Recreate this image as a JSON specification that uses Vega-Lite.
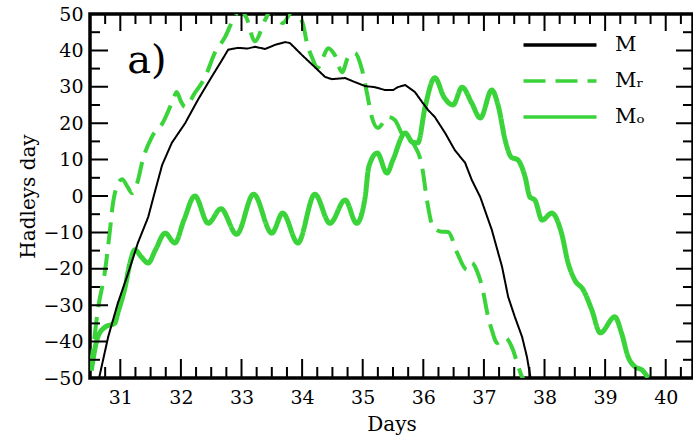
{
  "$schema": "https://vega.github.io/schema/vega-lite/v6.json",
  "width": 603,
  "height": 364,
  "autosize": "none",
  "padding": {"left": 90, "top": 14, "right": 0, "bottom": 60},
  "config": {
    "view": {"stroke": "black", "strokeWidth": 3.5},
    "axis": {"domain": false, "grid": false, "ticks": false, "labelFont": "DejaVu Serif", "labelFontSize": 19, "labelColor": "black", "titleFont": "DejaVu Serif", "titleFontSize": 20, "titleFontWeight": "normal", "titleColor": "black"},
    "legend": {"orient": "none", "legendX": 459, "legendY": 20, "symbolType": "M-4,0H4", "symbolSize": 333, "symbolStrokeWidth": 3.5, "labelFont": "DejaVu Serif", "labelFontSize": 21, "labelColor": "black", "labelOffset": 44, "rowPadding": 15}
  },
  "datasets": {
    "curves": [
      {"series": "M", "day": 30.65, "value": -50},
      {"series": "M", "day": 30.8, "value": -38.7},
      {"series": "M", "day": 30.96, "value": -29.4},
      {"series": "M", "day": 31.13, "value": -21.2},
      {"series": "M", "day": 31.29, "value": -12.9},
      {"series": "M", "day": 31.46, "value": -5.8},
      {"series": "M", "day": 31.56, "value": 0.5},
      {"series": "M", "day": 31.69, "value": 8.5},
      {"series": "M", "day": 31.85, "value": 14.6},
      {"series": "M", "day": 32.07, "value": 20},
      {"series": "M", "day": 32.28, "value": 26.4},
      {"series": "M", "day": 32.51, "value": 32.8},
      {"series": "M", "day": 32.68, "value": 37.4},
      {"series": "M", "day": 32.78, "value": 40.2},
      {"series": "M", "day": 32.94, "value": 40.7},
      {"series": "M", "day": 33.1, "value": 40.5},
      {"series": "M", "day": 33.22, "value": 41},
      {"series": "M", "day": 33.39, "value": 40.4},
      {"series": "M", "day": 33.55, "value": 41.5},
      {"series": "M", "day": 33.72, "value": 42.3},
      {"series": "M", "day": 33.8, "value": 42},
      {"series": "M", "day": 34.0, "value": 38.7},
      {"series": "M", "day": 34.21, "value": 35.4},
      {"series": "M", "day": 34.38, "value": 32.7},
      {"series": "M", "day": 34.49, "value": 32.1},
      {"series": "M", "day": 34.71, "value": 32.4},
      {"series": "M", "day": 34.87, "value": 31.3},
      {"series": "M", "day": 35.04, "value": 30.2},
      {"series": "M", "day": 35.2, "value": 29.9},
      {"series": "M", "day": 35.37, "value": 29.1},
      {"series": "M", "day": 35.5, "value": 29.1},
      {"series": "M", "day": 35.58, "value": 29.9},
      {"series": "M", "day": 35.7, "value": 30.5},
      {"series": "M", "day": 35.86, "value": 28.6},
      {"series": "M", "day": 35.98, "value": 25.8},
      {"series": "M", "day": 36.08, "value": 23.6},
      {"series": "M", "day": 36.19, "value": 21.7},
      {"series": "M", "day": 36.36, "value": 17.3},
      {"series": "M", "day": 36.52, "value": 12.6},
      {"series": "M", "day": 36.69, "value": 9.1},
      {"series": "M", "day": 36.8, "value": 4.4},
      {"series": "M", "day": 36.94, "value": -0.3},
      {"series": "M", "day": 37.13, "value": -9.3},
      {"series": "M", "day": 37.3, "value": -19.5},
      {"series": "M", "day": 37.4, "value": -27.7},
      {"series": "M", "day": 37.51, "value": -33.2},
      {"series": "M", "day": 37.63, "value": -38.7},
      {"series": "M", "day": 37.71, "value": -44.2},
      {"series": "M", "day": 37.77, "value": -50},
      {"series": "MR", "day": 30.5, "value": -48},
      {"series": "MR", "day": 30.55, "value": -42},
      {"series": "MR", "day": 30.63, "value": -31.3},
      {"series": "MR", "day": 30.75, "value": -20.3},
      {"series": "MR", "day": 30.83, "value": -9.3},
      {"series": "MR", "day": 30.88, "value": -1.9},
      {"series": "MR", "day": 30.93, "value": 2},
      {"series": "MR", "day": 31.03, "value": 4.6},
      {"series": "MR", "day": 31.12, "value": 2.5},
      {"series": "MR", "day": 31.19, "value": 0.8},
      {"series": "MR", "day": 31.28, "value": 3.6},
      {"series": "MR", "day": 31.37, "value": 9.9},
      {"series": "MR", "day": 31.52, "value": 16.2},
      {"series": "MR", "day": 31.7, "value": 20.1},
      {"series": "MR", "day": 31.87, "value": 26.4},
      {"series": "MR", "day": 31.93, "value": 28.6},
      {"series": "MR", "day": 32.0, "value": 26},
      {"series": "MR", "day": 32.07, "value": 24.5},
      {"series": "MR", "day": 32.23, "value": 28.3},
      {"series": "MR", "day": 32.4, "value": 32.7},
      {"series": "MR", "day": 32.56, "value": 39.3},
      {"series": "MR", "day": 32.73, "value": 43.7},
      {"series": "MR", "day": 32.86, "value": 48.4},
      {"series": "MR", "day": 32.97, "value": 51},
      {"series": "MR", "day": 33.08, "value": 49},
      {"series": "MR", "day": 33.22, "value": 42.5},
      {"series": "MR", "day": 33.39, "value": 48.4},
      {"series": "MR", "day": 33.5, "value": 51.5},
      {"series": "MR", "day": 33.6, "value": 49},
      {"series": "MR", "day": 33.68, "value": 47.5},
      {"series": "MR", "day": 33.85, "value": 51},
      {"series": "MR", "day": 34.01, "value": 47.5},
      {"series": "MR", "day": 34.08, "value": 42},
      {"series": "MR", "day": 34.16, "value": 38.2},
      {"series": "MR", "day": 34.26, "value": 35.2},
      {"series": "MR", "day": 34.33, "value": 37.4},
      {"series": "MR", "day": 34.43, "value": 40.6},
      {"series": "MR", "day": 34.54, "value": 38.7},
      {"series": "MR", "day": 34.66, "value": 34},
      {"series": "MR", "day": 34.76, "value": 38.2},
      {"series": "MR", "day": 34.87, "value": 39.3},
      {"series": "MR", "day": 34.99, "value": 34.6},
      {"series": "MR", "day": 35.07, "value": 28.3},
      {"series": "MR", "day": 35.15, "value": 21.7},
      {"series": "MR", "day": 35.25, "value": 18.7},
      {"series": "MR", "day": 35.42, "value": 21.7},
      {"series": "MR", "day": 35.53, "value": 20.9},
      {"series": "MR", "day": 35.65, "value": 17},
      {"series": "MR", "day": 35.85, "value": 14},
      {"series": "MR", "day": 35.98, "value": 8},
      {"series": "MR", "day": 36.06, "value": -1.1},
      {"series": "MR", "day": 36.16, "value": -8.5},
      {"series": "MR", "day": 36.3, "value": -9.8},
      {"series": "MR", "day": 36.41, "value": -9.9},
      {"series": "MR", "day": 36.56, "value": -15.7},
      {"series": "MR", "day": 36.72, "value": -20.3},
      {"series": "MR", "day": 36.8, "value": -18.4},
      {"series": "MR", "day": 36.9, "value": -21.2},
      {"series": "MR", "day": 36.97, "value": -25},
      {"series": "MR", "day": 37.07, "value": -33.2},
      {"series": "MR", "day": 37.13, "value": -36.8},
      {"series": "MR", "day": 37.22, "value": -40.4},
      {"series": "MR", "day": 37.35, "value": -39},
      {"series": "MR", "day": 37.48, "value": -42.3},
      {"series": "MR", "day": 37.55, "value": -45.9},
      {"series": "MR", "day": 37.63, "value": -49.7},
      {"series": "MR", "day": 37.7, "value": -51},
      {"series": "MO", "day": 30.52, "value": -48},
      {"series": "MO", "day": 30.63, "value": -38.7},
      {"series": "MO", "day": 30.75, "value": -36},
      {"series": "MO", "day": 30.91, "value": -34.9},
      {"series": "MO", "day": 30.96, "value": -32.1},
      {"series": "MO", "day": 31.08, "value": -25},
      {"series": "MO", "day": 31.16, "value": -18.4},
      {"series": "MO", "day": 31.24, "value": -14.8},
      {"series": "MO", "day": 31.35, "value": -16.8},
      {"series": "MO", "day": 31.46, "value": -18.4},
      {"series": "MO", "day": 31.58, "value": -14.8},
      {"series": "MO", "day": 31.74, "value": -10.2},
      {"series": "MO", "day": 31.9, "value": -12.9},
      {"series": "MO", "day": 32.05, "value": -6.6},
      {"series": "MO", "day": 32.23, "value": 0},
      {"series": "MO", "day": 32.45, "value": -7.5},
      {"series": "MO", "day": 32.66, "value": -3.5},
      {"series": "MO", "day": 32.92, "value": -10.5},
      {"series": "MO", "day": 33.2, "value": 0.5},
      {"series": "MO", "day": 33.5, "value": -10.2},
      {"series": "MO", "day": 33.68, "value": -4.7},
      {"series": "MO", "day": 33.93, "value": -12.9},
      {"series": "MO", "day": 34.21, "value": 0.5},
      {"series": "MO", "day": 34.46, "value": -7.5},
      {"series": "MO", "day": 34.71, "value": -1.1},
      {"series": "MO", "day": 34.9, "value": -7.5},
      {"series": "MO", "day": 35.04, "value": -0.3},
      {"series": "MO", "day": 35.1, "value": 8},
      {"series": "MO", "day": 35.24, "value": 11.8},
      {"series": "MO", "day": 35.4, "value": 6.3},
      {"series": "MO", "day": 35.5, "value": 10},
      {"series": "MO", "day": 35.7, "value": 17.3},
      {"series": "MO", "day": 35.82, "value": 14.8},
      {"series": "MO", "day": 35.91, "value": 14.6},
      {"series": "MO", "day": 36.03, "value": 24.5},
      {"series": "MO", "day": 36.19, "value": 32.5},
      {"series": "MO", "day": 36.34, "value": 27.2},
      {"series": "MO", "day": 36.49, "value": 25},
      {"series": "MO", "day": 36.64, "value": 29.9},
      {"series": "MO", "day": 36.8, "value": 25.5},
      {"series": "MO", "day": 36.94, "value": 21.4},
      {"series": "MO", "day": 37.13, "value": 29.1},
      {"series": "MO", "day": 37.24, "value": 24.5},
      {"series": "MO", "day": 37.35, "value": 15.4},
      {"series": "MO", "day": 37.45, "value": 10.7},
      {"series": "MO", "day": 37.56, "value": 9.9},
      {"series": "MO", "day": 37.68, "value": 5.2},
      {"series": "MO", "day": 37.76, "value": -0.3},
      {"series": "MO", "day": 37.84, "value": -1.1},
      {"series": "MO", "day": 37.96, "value": -6.6},
      {"series": "MO", "day": 38.12, "value": -4.7},
      {"series": "MO", "day": 38.28, "value": -10.2},
      {"series": "MO", "day": 38.39, "value": -18.4},
      {"series": "MO", "day": 38.5, "value": -23.1},
      {"series": "MO", "day": 38.64, "value": -25.8},
      {"series": "MO", "day": 38.78, "value": -31.3},
      {"series": "MO", "day": 38.92, "value": -37.6},
      {"series": "MO", "day": 39.16, "value": -33.2},
      {"series": "MO", "day": 39.27, "value": -37.6},
      {"series": "MO", "day": 39.38, "value": -44.2},
      {"series": "MO", "day": 39.5, "value": -47},
      {"series": "MO", "day": 39.61, "value": -47.8},
      {"series": "MO", "day": 39.71, "value": -50}
    ],
    "xticks": [
      {"pos": 30.75, "kind": "minor"}, {"pos": 31, "kind": "major"}, {"pos": 31.25, "kind": "minor"}, {"pos": 31.5, "kind": "minor"}, {"pos": 31.75, "kind": "minor"},
      {"pos": 32, "kind": "major"}, {"pos": 32.25, "kind": "minor"}, {"pos": 32.5, "kind": "minor"}, {"pos": 32.75, "kind": "minor"},
      {"pos": 33, "kind": "major"}, {"pos": 33.25, "kind": "minor"}, {"pos": 33.5, "kind": "minor"}, {"pos": 33.75, "kind": "minor"},
      {"pos": 34, "kind": "major"}, {"pos": 34.25, "kind": "minor"}, {"pos": 34.5, "kind": "minor"}, {"pos": 34.75, "kind": "minor"},
      {"pos": 35, "kind": "major"}, {"pos": 35.25, "kind": "minor"}, {"pos": 35.5, "kind": "minor"}, {"pos": 35.75, "kind": "minor"},
      {"pos": 36, "kind": "major"}, {"pos": 36.25, "kind": "minor"}, {"pos": 36.5, "kind": "minor"}, {"pos": 36.75, "kind": "minor"},
      {"pos": 37, "kind": "major"}, {"pos": 37.25, "kind": "minor"}, {"pos": 37.5, "kind": "minor"}, {"pos": 37.75, "kind": "minor"},
      {"pos": 38, "kind": "major"}, {"pos": 38.25, "kind": "minor"}, {"pos": 38.5, "kind": "minor"}, {"pos": 38.75, "kind": "minor"},
      {"pos": 39, "kind": "major"}, {"pos": 39.25, "kind": "minor"}, {"pos": 39.5, "kind": "minor"}, {"pos": 39.75, "kind": "minor"},
      {"pos": 40, "kind": "major"}, {"pos": 40.25, "kind": "minor"}
    ],
    "yticks": [
      {"pos": -50, "kind": "major"}, {"pos": -45, "kind": "minor"}, {"pos": -40, "kind": "major"}, {"pos": -35, "kind": "minor"},
      {"pos": -30, "kind": "major"}, {"pos": -25, "kind": "minor"}, {"pos": -20, "kind": "major"}, {"pos": -15, "kind": "minor"},
      {"pos": -10, "kind": "major"}, {"pos": -5, "kind": "minor"}, {"pos": 0, "kind": "major"}, {"pos": 5, "kind": "minor"},
      {"pos": 10, "kind": "major"}, {"pos": 15, "kind": "minor"}, {"pos": 20, "kind": "major"}, {"pos": 25, "kind": "minor"},
      {"pos": 30, "kind": "major"}, {"pos": 35, "kind": "minor"}, {"pos": 40, "kind": "major"}, {"pos": 45, "kind": "minor"},
      {"pos": 50, "kind": "major"}
    ]
  },
  "data": {"name": "curves"},
  "resolve": {"axis": {"x": "independent", "y": "independent"}},
  "layer": [
    {
      "transform": [{"filter": "datum.series === 'MO'"}],
      "mark": {"type": "line", "strokeWidth": 5, "interpolate": "monotone", "clip": true},
      "encoding": {
        "x": {"field": "day", "type": "quantitative", "scale": {"domain": [30.5, 40.45], "nice": false, "zero": false},
              "axis": {"orient": "bottom", "values": [31, 32, 33, 34, 35, 36, 37, 38, 39, 40], "labelPadding": 10, "title": "Days", "titlePadding": 7}},
        "y": {"field": "value", "type": "quantitative", "scale": {"domain": [-50, 50], "nice": false, "zero": false},
              "axis": {"orient": "left", "values": [-50, -40, -30, -20, -10, 0, 10, 20, 30, 40, 50], "labelPadding": 7, "title": "Hadleys day", "titlePadding": 4}},
        "color": {"field": "series", "type": "nominal", "scale": {"domain": ["M", "MR", "MO"], "range": ["#000000", "#3ad43a", "#3ad43a"]}, "legend": {"title": null, "labelExpr": "datum.value === 'MR' ? 'Mᵣ' : datum.value === 'MO' ? 'Mₒ' : 'M'"}},
        "strokeDash": {"field": "series", "type": "nominal", "scale": {"domain": ["M", "MR", "MO"], "range": [[1, 0], [22, 10], [1, 0]]}, "legend": {"title": null, "labelExpr": "datum.value === 'MR' ? 'Mᵣ' : datum.value === 'MO' ? 'Mₒ' : 'M'"}}
      }
    },
    {
      "transform": [{"filter": "datum.series === 'MR'"}],
      "mark": {"type": "line", "strokeWidth": 4, "interpolate": "monotone", "clip": true},
      "encoding": {
        "x": {"field": "day", "type": "quantitative", "axis": null},
        "y": {"field": "value", "type": "quantitative", "axis": null},
        "color": {"field": "series", "type": "nominal"},
        "strokeDash": {"field": "series", "type": "nominal"}
      }
    },
    {
      "transform": [{"filter": "datum.series === 'M'"}],
      "mark": {"type": "line", "strokeWidth": 2, "clip": true},
      "encoding": {
        "x": {"field": "day", "type": "quantitative", "axis": null},
        "y": {"field": "value", "type": "quantitative", "axis": null},
        "color": {"field": "series", "type": "nominal"},
        "strokeDash": {"field": "series", "type": "nominal"}
      }
    },
    {
      "data": {"name": "xticks"},
      "mark": {"type": "tick", "orient": "vertical", "thickness": 2, "color": "black", "opacity": 1, "clip": true},
      "encoding": {
        "x": {"field": "pos", "type": "quantitative", "axis": null},
        "y": {"datum": -50, "type": "quantitative", "axis": null},
        "size": {"condition": {"test": "datum.kind === 'major'", "value": 38}, "value": 22}
      }
    },
    {
      "data": {"name": "xticks"},
      "mark": {"type": "tick", "orient": "vertical", "thickness": 2, "color": "black", "opacity": 1, "clip": true},
      "encoding": {
        "x": {"field": "pos", "type": "quantitative", "axis": null},
        "y": {"datum": 50, "type": "quantitative", "axis": null},
        "size": {"condition": {"test": "datum.kind === 'major'", "value": 34}, "value": 20}
      }
    },
    {
      "data": {"name": "yticks"},
      "mark": {"type": "tick", "orient": "horizontal", "thickness": 2, "color": "black", "opacity": 1, "clip": true},
      "encoding": {
        "y": {"field": "pos", "type": "quantitative", "axis": null},
        "x": {"datum": 30.5, "type": "quantitative", "axis": null},
        "size": {"condition": {"test": "datum.kind === 'major'", "value": 36}, "value": 20}
      }
    },
    {
      "data": {"name": "yticks"},
      "mark": {"type": "tick", "orient": "horizontal", "thickness": 2, "color": "black", "opacity": 1, "clip": true},
      "encoding": {
        "y": {"field": "pos", "type": "quantitative", "axis": null},
        "x": {"datum": 40.45, "type": "quantitative", "axis": null},
        "size": {"condition": {"test": "datum.kind === 'major'", "value": 34}, "value": 20}
      }
    },
    {
      "data": {"values": [{"label": "a)"}]},
      "mark": {"type": "text", "font": "DejaVu Serif", "fontSize": 40, "align": "center", "baseline": "alphabetic", "color": "black"},
      "encoding": {
        "x": {"datum": 31.44, "type": "quantitative", "axis": null},
        "y": {"datum": 33.8, "type": "quantitative", "axis": null},
        "text": {"field": "label"}
      }
    }
  ]
}
